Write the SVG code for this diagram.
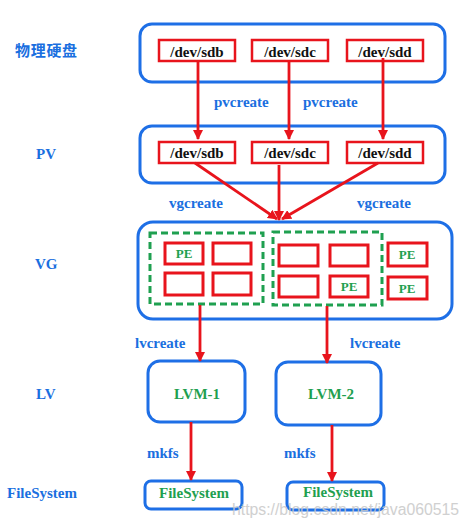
<svg xmlns="http://www.w3.org/2000/svg" width="469" height="527" viewBox="0 0 469 527">
<style>
.bg{fill:#ffffff}
.outer{fill:#ffffff;stroke:#1e6fe6;stroke-width:3}
.dev{fill:#ffffff;stroke:#e8141c;stroke-width:2.5}
.pe{fill:#ffffff;stroke:#e8141c;stroke-width:3}
.grp{fill:none;stroke:#1fa050;stroke-width:3;stroke-dasharray:7 4}
.t{font-family:"Liberation Serif","Times New Roman",serif;font-weight:bold}
.devt{font-size:15px;fill:#111111;text-anchor:middle}
.lbl{font-size:15px;fill:#1a6fe0}
.gt{fill:#1fa050;text-anchor:middle}
.cjk{font-family:"Noto Sans CJK SC","Noto Sans",sans-serif;font-weight:bold;font-size:15px;fill:#1a6fe0;letter-spacing:0.7px}
.ln{stroke:#e8141c;stroke-width:2.8;fill:none;marker-end:url(#ah)}
.wm{font-family:"Liberation Sans",Arial,sans-serif;font-size:16px;fill:#c8c8c8;opacity:0.85}
</style>
<defs>
<marker id="ah" markerUnits="userSpaceOnUse" markerWidth="10" markerHeight="10" refX="9" refY="5" orient="auto">
<path d="M0,0 L10,5 L0,10 z" fill="#e8141c"/>
</marker>
</defs>
<rect class="bg" x="0" y="0" width="469" height="527"/>

<g id="row-labels">
<text class="cjk" x="15" y="56">物理硬盘</text>
<text class="t lbl" x="36" y="159">PV</text>
<text class="t lbl" x="35" y="269">VG</text>
<text class="t lbl" x="36" y="399">LV</text>
<text class="t lbl" x="7" y="498">FileSystem</text>
</g>

<g id="disks">
<rect class="outer" x="140" y="24" width="305" height="58" rx="12"/>
<rect class="dev" x="159" y="40" width="76" height="21"/>
<text class="t devt" x="197" y="57">/dev/sdb</text>
<rect class="dev" x="252" y="40" width="76" height="21"/>
<text class="t devt" x="290" y="57">/dev/sdc</text>
<rect class="dev" x="347" y="40" width="76" height="21"/>
<text class="t devt" x="385" y="57">/dev/sdd</text>
</g>

<g id="pv">
<rect class="outer" x="140" y="126" width="305" height="57" rx="12"/>
<rect class="dev" x="159" y="142" width="76" height="21"/>
<text class="t devt" x="197" y="158">/dev/sdb</text>
<rect class="dev" x="252" y="142" width="76" height="21"/>
<text class="t devt" x="290" y="158">/dev/sdc</text>
<rect class="dev" x="347" y="142" width="76" height="21"/>
<text class="t devt" x="385" y="158">/dev/sdd</text>
</g>

<g id="vg">
<rect class="outer" x="138" y="222" width="314" height="97" rx="15"/>
<rect class="grp" x="150" y="233" width="113" height="71"/>
<rect class="grp" x="273" y="232" width="109" height="73"/>
<rect class="pe" x="165" y="243" width="38" height="21"/>
<text class="t gt" x="184" y="258" font-size="13">PE</text>
<rect class="pe" x="213" y="243" width="38" height="21"/>
<rect class="pe" x="165" y="273" width="38" height="22"/>
<rect class="pe" x="213" y="273" width="38" height="22"/>
<rect class="pe" x="279" y="245" width="39" height="21"/>
<rect class="pe" x="330" y="245" width="38" height="21"/>
<rect class="pe" x="279" y="276" width="39" height="21"/>
<rect class="pe" x="330" y="276" width="38" height="21"/>
<text class="t gt" x="349" y="291" font-size="13">PE</text>
<rect class="pe" x="388" y="243" width="39" height="23"/>
<text class="t gt" x="407" y="259" font-size="13">PE</text>
<rect class="pe" x="388" y="277" width="39" height="22"/>
<text class="t gt" x="407" y="293" font-size="13">PE</text>
</g>

<g id="lvm1">
<rect class="outer" x="148" y="361" width="97" height="61" rx="12"/>
<text class="t gt" x="197" y="399" font-size="15">LVM-1</text>
</g>
<g id="lvm2">
<rect class="outer" x="276" y="362" width="105" height="63" rx="12"/>
<text class="t gt" x="331" y="399" font-size="15">LVM-2</text>
</g>

<g id="fs1">
<rect class="outer" x="145" y="481" width="97" height="28" rx="6"/>
<text class="t gt" x="194" y="498" font-size="15">FileSystem</text>
</g>
<g id="fs2">
<rect class="outer" x="287" y="482" width="97" height="28" rx="6"/>
<text class="t gt" x="338" y="497" font-size="15">FileSystem</text>
</g>

<g id="connectors">
<line class="ln" x1="198" y1="61" x2="198" y2="139"/>
<line class="ln" x1="289" y1="61" x2="289" y2="139"/>
<line class="ln" x1="383" y1="58" x2="383" y2="139"/>
<line class="ln" x1="195" y1="163" x2="277" y2="219"/>
<line class="ln" x1="279" y1="165" x2="279" y2="220"/>
<line class="ln" x1="378" y1="163" x2="282" y2="219"/>
<line class="ln" x1="200" y1="305" x2="200" y2="361"/>
<line class="ln" x1="327" y1="306" x2="327" y2="363"/>
<line class="ln" x1="191" y1="422" x2="191" y2="480"/>
<line class="ln" x1="332" y1="425" x2="332" y2="481"/>
</g>

<g id="connector-labels">
<text class="t lbl" x="214" y="107">pvcreate</text>
<text class="t lbl" x="303" y="107">pvcreate</text>
<text class="t lbl" x="169" y="208">vgcreate</text>
<text class="t lbl" x="357" y="208">vgcreate</text>
<text class="t lbl" x="135" y="348">lvcreate</text>
<text class="t lbl" x="350" y="348">lvcreate</text>
<text class="t lbl" x="147" y="458">mkfs</text>
<text class="t lbl" x="284" y="458">mkfs</text>
</g>

<text class="wm" x="232" y="515" textLength="227" lengthAdjust="spacingAndGlyphs">https://blog.csdn.net/java060515</text>
</svg>
